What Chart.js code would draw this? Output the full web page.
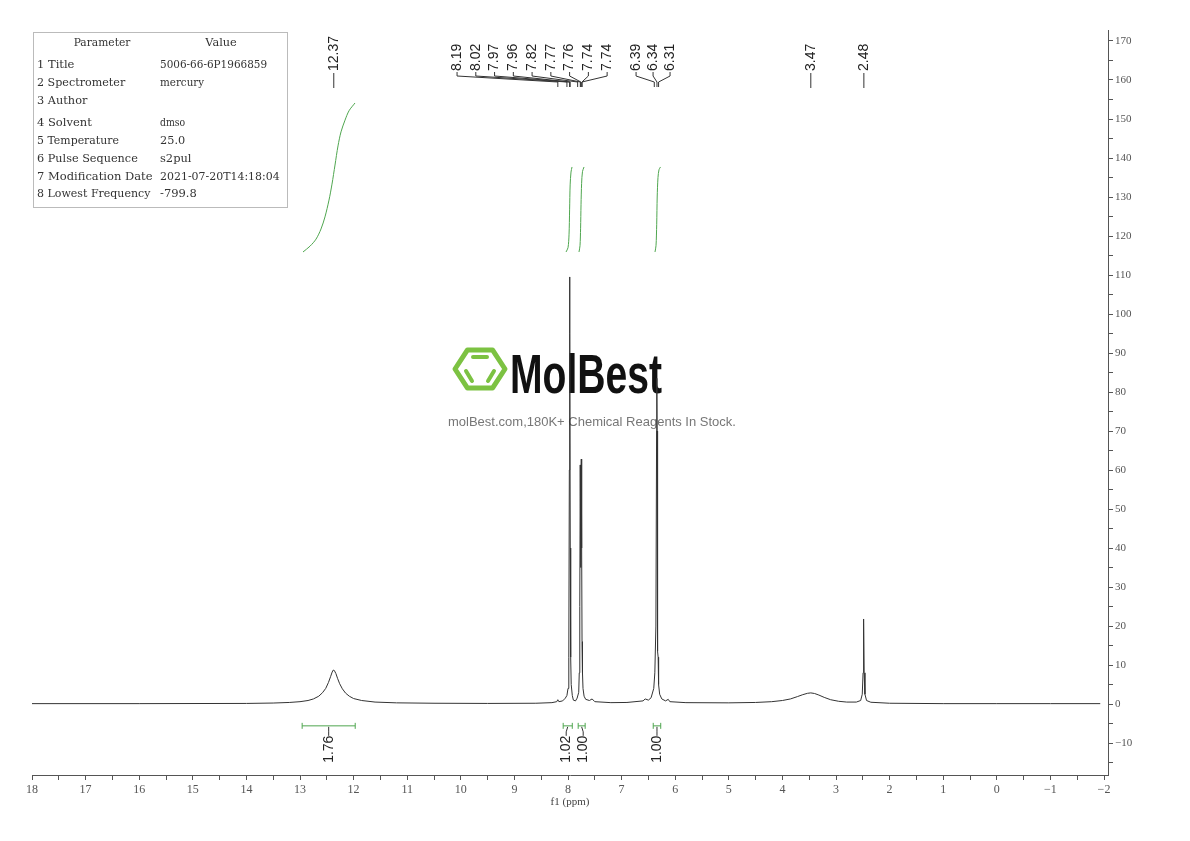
<!DOCTYPE html>
<html>
<head>
<meta charset="utf-8">
<script src="https://cdn.jsdelivr.net/npm/chart.js@4.4.1/dist/chart.umd.min.js"></script>
<style>
  html, body { margin: 0; padding: 0; background: #fff; }
  #wrap { width: 1190px; height: 841px; position: relative; }
</style>
</head>
<body>
<div id="wrap"><canvas id="nmr"></canvas></div>
<script>
// 1H trace: chemical shift (ppm) and intensity
var spectrumPpm = [18.0, 16.0, 14.0, 13.5, 13.2, 13.0, 12.85, 12.75, 12.65, 12.58, 12.52, 12.47, 12.43, 12.40, 12.38,
  12.36, 12.33, 12.30, 12.26, 12.21, 12.15, 12.08, 12.0, 11.85, 11.6, 11.2, 10.5, 9.5, 8.6, 8.3, 8.21, 8.19, 8.17,
  8.10, 8.05, 8.02, 8.00, 7.985, 7.975, 7.970, 7.965, 7.958, 7.95, 7.94, 7.92, 7.90, 7.86, 7.83, 7.80, 7.79, 7.78,
  7.772, 7.765, 7.758, 7.752, 7.745, 7.738, 7.73, 7.72, 7.70, 7.67, 7.60, 7.55, 7.50, 7.2, 6.9, 6.6, 6.56, 6.50,
  6.45, 6.40, 6.38, 6.36, 6.347, 6.343, 6.338, 6.332, 6.326, 6.318, 6.31, 6.29, 6.25, 6.18, 6.13, 6.10, 5.8, 5.0,
  4.5, 4.2, 4.0, 3.85, 3.72, 3.62, 3.53, 3.47, 3.40, 3.32, 3.22, 3.10, 2.95, 2.80, 2.62, 2.54, 2.51, 2.495, 2.485,
  2.475, 2.46, 2.43, 2.35, 2.0, 1.0, 0.0, -1.0, -1.93];
var spectrumInt = [0.1, 0.1, 0.15, 0.25, 0.4, 0.6, 0.9, 1.3, 2.0, 2.9, 4.0, 5.5, 7.0, 8.2, 8.7,
  8.6, 7.8, 6.6, 5.2, 3.9, 2.8, 2.0, 1.4, 0.9, 0.5, 0.3, 0.2, 0.15, 0.2, 0.35, 0.6, 1.1, 0.6,
  0.8, 1.5, 2.2, 4, 12, 60, 109.5, 95, 40, 12, 5, 2.2, 1.0, 0.8, 1.5, 3, 8, 25,
  61.3, 35, 48, 62.8, 40, 16, 8, 4, 2, 1.2, 0.9, 1.3, 0.6, 0.35, 0.4, 0.8, 1.3, 1.0,
  1.6, 4, 8, 20, 70, 83.5, 70, 25, 13.5, 12, 5, 2.5, 1.3, 0.8, 1.2, 0.6, 0.35, 0.3,
  0.4, 0.6, 0.9, 1.3, 1.9, 2.4, 2.75, 2.85, 2.7, 2.3, 1.7, 1.1, 0.7, 0.5, 0.5, 0.9, 2.5, 8, 21.8,
  8, 2.5, 0.9, 0.45, 0.2, 0.1, 0.1, 0.1, 0.1];

// integral curves (green S traces)
var intCurve1Ppm = [12.944, 12.813, 12.701, 12.608, 12.534, 12.459, 12.403, 12.347, 12.291, 12.235, 12.160, 12.086, 11.974];
var intCurve1Val = [115.9, 117.4, 119.2, 121.8, 124.9, 129.2, 133.3, 138.2, 143.1, 146.7, 149.7, 152.1, 154.1];
var intCurve2Ppm = [8.037, 8.0, 7.981, 7.97, 7.96, 7.944, 7.925];
var intCurve2Val = [115.9, 117.0, 120.3, 126.7, 133.1, 136.4, 137.7];
var intCurve3Ppm = [7.795, 7.776, 7.765, 7.757, 7.746, 7.73, 7.701];
var intCurve3Val = [115.9, 117.5, 122.0, 128.0, 133.5, 136.5, 137.7];
var intCurve4Ppm = [6.377, 6.358, 6.345, 6.336, 6.321, 6.302, 6.274];
var intCurve4Val = [115.9, 117.5, 123.0, 130.0, 135.0, 137.0, 137.7];

// integration ranges and values
var intFrom = [12.96, 8.09, 7.81, 6.41];
var intTo = [11.97, 7.92, 7.68, 6.27];
var intValues = [1.76, 1.02, 1.00, 1.00];

// picked peaks
var peakPpm = [12.37, 8.19, 8.02, 7.97, 7.96, 7.82, 7.77, 7.76, 7.74, 7.74, 6.39, 6.34, 6.31, 3.47, 2.48];

// acquisition parameters
var paramNames = ['1 Title', '2 Spectrometer', '3 Author', '4 Solvent', '5 Temperature', '6 Pulse Sequence', '7 Modification Date', '8 Lowest Frequency'];
var paramValues = ['5006-66-6P1966859', 'mercury', '', 'dmso', '25.0', 's2pul', '2021-07-20T14:18:04', '-799.8'];

function pts(xs, ys) {
  return xs.map(function (x, i) { return { x: x, y: ys[i] }; });
}
function fmt(v) {
  return v < 0 ? '\u2212' + Math.abs(v) : String(v);
}

var GREEN = '#4fa64f';

// watermark in the middle of the plot
var watermarkPlugin = {
  id: 'watermark',
  beforeDatasetsDraw: function (chart) {
    var c = chart.ctx;
    var cx = 480, cy = 369, r = 25;
    c.save();
    c.strokeStyle = '#7cc242';
    c.lineWidth = 5;
    c.lineJoin = 'round';
    c.beginPath();
    for (var k = 0; k < 6; k++) {
      var a = Math.PI / 3 * k;
      var px = cx + r * Math.cos(a), py = cy + r * Math.sin(a) * 0.88;
      if (k === 0) c.moveTo(px, py); else c.lineTo(px, py);
    }
    c.closePath();
    c.stroke();
    c.lineWidth = 4;
    c.lineCap = 'round';
    c.beginPath();
    c.moveTo(cx - 7, cy - 12); c.lineTo(cx + 7, cy - 12);
    c.moveTo(cx - 14, cy + 2); c.lineTo(cx - 8, cy + 12);
    c.moveTo(cx + 14, cy + 2); c.lineTo(cx + 8, cy + 12);
    c.stroke();

    c.fillStyle = '#111';
    c.font = 'bold 56px "Liberation Sans", Arial, sans-serif';
    c.textBaseline = 'alphabetic';
    c.fillText('MolBest', 510, 393, 152);
    c.fillStyle = '#777';
    c.font = '13px "Liberation Sans", Arial, sans-serif';
    c.fillText('molBest.com,180K+ Chemical Reagents In Stock.', 448, 426, 292);
    c.restore();
  }
};

// peak labels, integrals and the parameter table
var annotatePlugin = {
  id: 'annotate',
  afterDraw: function (chart) {
    var c = chart.ctx, xs = chart.scales.x, ys = chart.scales.y;
    c.save();

    // peak labels
    var groups = [
      { from: 1, to: 9, start: 10.07, step: 0.35 },
      { from: 10, to: 12, start: 6.73, step: 0.317 }
    ];
    c.font = '14px "Liberation Sans", Arial, sans-serif';
    c.fillStyle = '#222';
    c.strokeStyle = '#333';
    c.lineWidth = 1;
    peakPpm.forEach(function (p, i) {
      var px = xs.getPixelForValue(p);
      var lx = px, grouped = false;
      groups.forEach(function (g) {
        if (i >= g.from && i <= g.to) {
          lx = xs.getPixelForValue(g.start - (i - g.from) * g.step);
          grouped = true;
        }
      });
      c.beginPath();
      if (grouped) {
        c.moveTo(lx, 72); c.lineTo(lx, 76);
        c.lineTo(px, 82); c.lineTo(px, 87);
      } else {
        c.moveTo(px, 73); c.lineTo(px, 88);
      }
      c.stroke();
      c.save();
      c.translate(lx, 71);
      c.rotate(-Math.PI / 2);
      c.textAlign = 'left';
      c.textBaseline = 'middle';
      c.fillText(p.toFixed(2), 0, 0);
      c.restore();
    });

    // integration bars and values
    var barY = ys.getPixelForValue(-5.6);
    var centers = intFrom.map(function (f, i) {
      return (xs.getPixelForValue(f) + xs.getPixelForValue(intTo[i])) / 2;
    });
    var labelX = centers.slice();
    for (var i = 1; i < labelX.length; i++) {
      if (labelX[i] - labelX[i - 1] < 17) {
        var mid = (labelX[i] + labelX[i - 1]) / 2;
        labelX[i - 1] = mid - 8.5;
        labelX[i] = mid + 8.5;
      }
    }
    c.strokeStyle = GREEN;
    intFrom.forEach(function (f, i) {
      var x1 = xs.getPixelForValue(f), x2 = xs.getPixelForValue(intTo[i]);
      c.beginPath();
      c.moveTo(x1, barY); c.lineTo(x2, barY);
      c.moveTo(x1, barY - 3); c.lineTo(x1, barY + 3);
      c.moveTo(x2, barY - 3); c.lineTo(x2, barY + 3);
      c.stroke();
    });
    c.strokeStyle = '#333';
    c.fillStyle = '#222';
    intValues.forEach(function (v, i) {
      c.beginPath();
      c.moveTo(centers[i], barY + 1);
      c.lineTo(labelX[i], barY + 6);
      c.lineTo(labelX[i], barY + 10);
      c.stroke();
      c.save();
      c.translate(labelX[i], barY + 37);
      c.rotate(-Math.PI / 2);
      c.textAlign = 'left';
      c.textBaseline = 'middle';
      c.fillText(v.toFixed(2), 0, 0);
      c.restore();
    });

    // parameter table (fixed pitch of about 6.3px per character)
    c.strokeStyle = '#bbb';
    c.strokeRect(33.5, 32.5, 254, 175);
    c.fillStyle = '#333';
    c.font = '11.5px "DejaVu Serif", "Liberation Serif", serif';
    c.textBaseline = 'middle';
    c.textAlign = 'center';
    c.fillText('Parameter', 102, 43, 9 * 6.3);
    c.fillText('Value', 221, 43, 5 * 6.3);
    c.textAlign = 'left';
    var rowY = [65, 83, 101, 123, 141, 159, 177, 194];
    paramNames.forEach(function (n, i) {
      c.fillText(n, 37, rowY[i], n.length * 6.3);
      if (paramValues[i]) c.fillText(paramValues[i], 160, rowY[i], paramValues[i].length * 6.3);
    });
    c.restore();
  }
};

var tickFont = { family: '"Liberation Serif", "DejaVu Serif", serif', size: 12 };

var nmrChart = new Chart(document.getElementById('nmr').getContext('2d'), {
  type: 'line',
  data: {
    datasets: [
      { data: pts(spectrumPpm, spectrumInt), borderColor: '#333', borderWidth: 1, pointRadius: 0, tension: 0 },
      { data: pts(intCurve1Ppm, intCurve1Val), borderColor: GREEN, borderWidth: 1, pointRadius: 0, tension: 0.3 },
      { data: pts(intCurve2Ppm, intCurve2Val), borderColor: GREEN, borderWidth: 1, pointRadius: 0, tension: 0.3 },
      { data: pts(intCurve3Ppm, intCurve3Val), borderColor: GREEN, borderWidth: 1, pointRadius: 0, tension: 0.3 },
      { data: pts(intCurve4Ppm, intCurve4Val), borderColor: GREEN, borderWidth: 1, pointRadius: 0, tension: 0.3 }
    ]
  },
  options: {
    responsive: true,
    maintainAspectRatio: false,
    animation: false,
    layout: { padding: { left: 32, top: 30, right: 0, bottom: 0 } },
    plugins: {
      legend: { display: false },
      tooltip: { enabled: false }
    },
    scales: {
      x: {
        type: 'linear',
        reverse: true,
        min: -2.0746,
        max: 18,
        ticks: {
          stepSize: 0.5,
          includeBounds: false,
          autoSkip: false,
          maxRotation: 0,
          padding: 3,
          color: '#555',
          font: tickFont,
          callback: function (v) {
            return Math.abs(v - Math.round(v)) < 1e-6 ? fmt(Math.round(v)) : '';
          }
        },
        grid: { drawOnChartArea: false, drawTicks: true, tickLength: 5, color: '#555' },
        border: { color: '#555', width: 1 },
        title: {
          display: true,
          text: 'f1 (ppm)',
          color: '#444',
          padding: { top: 0, bottom: 32 },
          font: { family: '"Liberation Serif", serif', size: 11 }
        },
        afterFit: function (s) { s.height = 66; }
      },
      y: {
        position: 'right',
        min: -18.2,
        max: 172.82,
        ticks: {
          stepSize: 5,
          includeBounds: false,
          autoSkip: false,
          padding: 2,
          color: '#555',
          font: { family: '"Liberation Serif", serif', size: 11 },
          callback: function (v) {
            return Math.round(v) % 10 === 0 ? fmt(Math.round(v)) : '';
          }
        },
        grid: { drawOnChartArea: false, drawTicks: true, tickLength: 5, color: '#555' },
        border: { color: '#555', width: 1 },
        afterFit: function (s) { s.width = 82; }
      }
    }
  },
  plugins: [watermarkPlugin, annotatePlugin]
});
</script>
</body>
</html>
